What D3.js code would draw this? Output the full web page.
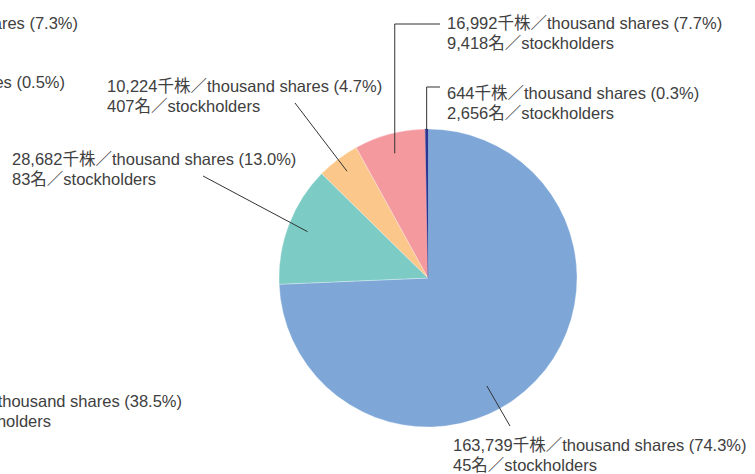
<!DOCTYPE html>
<html>
<head>
<meta charset="utf-8">
<script src="https://cdn.jsdelivr.net/npm/d3@7"></script>
<style>
  body { margin: 0; background: #fff; }
  text { font-family: "Liberation Sans", "Noto Sans CJK JP", sans-serif; fill: #404040; }
</style>
</head>
<body>
<script>
  var width = 755, height = 474;

  // data
  var shares = [163739, 28682, 10224, 16992, 644];
  var percents = ["74.3", "13.0", "4.7", "7.7", "0.3"];
  var holders = ["45", "83", "407", "9,418", "2,656"];
  var colors = ["#7ea7d8", "#7ccbc5", "#fbc78a", "#f4999e", "#2b3691"];

  // cut-off labels of the neighbouring chart (left edge)
  var leftLabels = [
    {t: "ares (7.3%)", x: 78, y: 29},
    {t: "es (0.5%)", x: 65, y: 88},
    {t: "thousand shares (38.5%)", x: 182, y: 407},
    {t: "holders", x: 51, y: 427}
  ];

  // label layout: leader angle (deg, null=mid), leader radius, elbow, line end, text pos
  var layout = [
    {ang: 151.4, lr: 123, pts: [[510, 426]], tx: 453, ty: 451},
    {ang: null, lr: 129, pts: [[203, 176]], tx: 12, ty: 165},
    {ang: null, lr: 134, pts: [[295, 103]], tx: 107, ty: 92},
    {ang: null, lr: 129, pts: ["v", 24, [440, 24]], tx: 447, ty: 29},
    {ang: null, lr: 148, pts: ["v", 87, [440, 87]], tx: 447, ty: 99}
  ];

  var cx = 428, cy = 278, r = 149;

  var svg = d3.select("body").append("svg")
    .attr("width", width)
    .attr("height", height);

  var g = svg.append("g").attr("transform", "translate(" + cx + "," + cy + ")");

  var pie = d3.pie().sort(null).value(function(d){ return d; });
  var arcs = pie(shares);
  var arc = d3.arc().innerRadius(0).outerRadius(r);

  g.selectAll("path.slice")
    .data(arcs)
    .enter()
    .append("path")
    .attr("class", "slice")
    .attr("d", arc)
    .attr("fill", function(d, i){ return colors[i]; })
    .attr("stroke", function(d, i){ return i == 4 ? colors[i] : "#fff"; })
    .attr("stroke-width", 0.3);

  // leader lines
  arcs.forEach(function(d, i) {
    var L = layout[i];
    var a = L.ang == null ? (d.startAngle + d.endAngle) / 2 : L.ang * Math.PI / 180;
    var sx = cx + Math.sin(a) * L.lr, sy = cy - Math.cos(a) * L.lr;
    var pts = [[sx, sy]];
    if (L.pts[0] == "v") {
      pts.push([sx, L.pts[1]]);
      pts.push(L.pts[2]);
    } else {
      pts = pts.concat(L.pts);
    }
    svg.append("path")
      .attr("d", d3.line()(pts))
      .attr("fill", "none")
      .attr("stroke", "#333")
      .attr("stroke-width", 1);

    var t = svg.append("text")
      .attr("x", L.tx)
      .attr("y", L.ty)
      .attr("font-size", "16.5px");
    t.append("tspan")
      .text(d3.format(",")(shares[i]) + "千株／thousand shares (" + percents[i] + "%)");
    t.append("tspan")
      .attr("x", L.tx)
      .attr("dy", 20)
      .text(holders[i] + "名／stockholders");
  });

  svg.selectAll("text.cut")
    .data(leftLabels)
    .enter()
    .append("text")
    .attr("class", "cut")
    .attr("x", function(d){ return d.x; })
    .attr("y", function(d){ return d.y; })
    .attr("text-anchor", "end")
    .attr("font-size", "16.5px")
    .text(function(d){ return d.t; });
</script>
</body>
</html>
